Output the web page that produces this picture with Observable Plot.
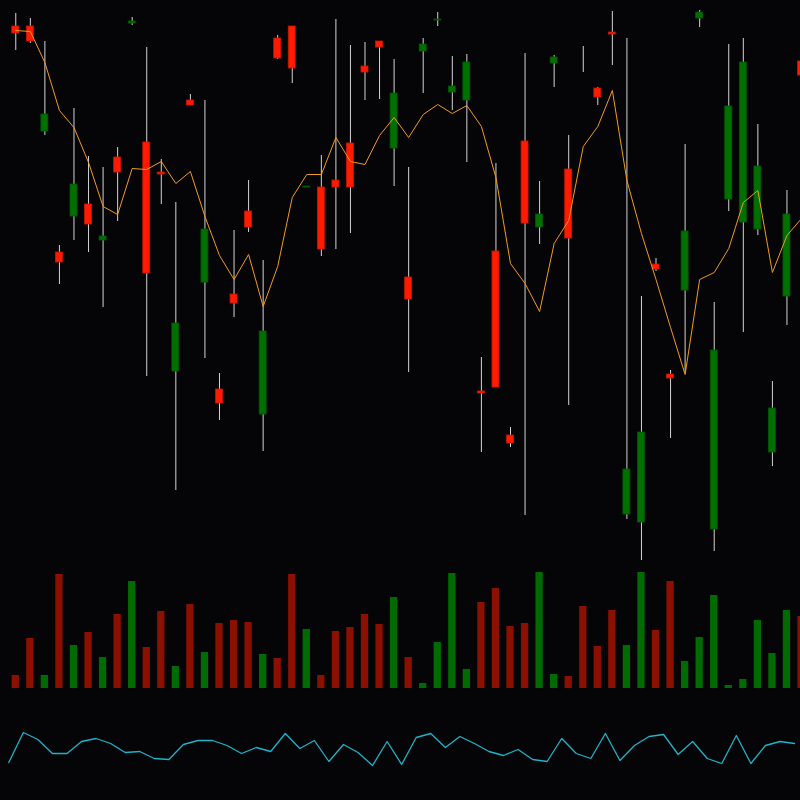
<!DOCTYPE html>
<html><head><meta charset="utf-8">
<script src="https://cdn.jsdelivr.net/npm/d3@7"></script>
<script src="https://cdn.jsdelivr.net/npm/@observablehq/plot@0.6"></script>
<style>
html,body{margin:0;padding:0;background:#050508;}
#chart{width:800px;height:800px;overflow:hidden;background:#050508;}
#chart svg{display:block;}
</style>
</head><body><div id="chart"></div>
<script>
// OHLC prices per session
const open  = [57.4,57.4,46.9,34.8,38.4,39.6,36.0,44.3,57.7,45.8,42.8,22.9,50.0,31.8,21.1,30.6,38.9,18.6,56.2,57.4,41.3,41.3,42.0,45.7,53.4,55.9,45.2,32.3,54.9,58.0,50.8,50.0,20.9,34.9,16.5,45.9,37.3,53.7,43.1,54.1,51.2,56.8,8.6,7.8,33.6,22.6,31.0,58.2,7.1,40.1,37.8,37.1,14.8,30.4,53.9];
const high  = [58.7,58.2,55.9,35.5,49.2,44.4,43.3,45.3,58.3,55.3,44.1,39.8,50.6,50.0,22.7,37.0,42.0,34.0,56.5,57.4,41.4,44.5,58.1,55.5,55.8,55.9,54.1,43.3,56.2,58.8,54.4,54.6,24.3,43.7,17.3,54.7,41.9,54.5,46.5,55.4,51.3,58.9,56.2,30.4,34.2,23.0,45.6,59.0,29.8,55.6,56.2,47.6,21.9,41.0,53.9];
const low   = [55.0,55.7,46.5,31.6,36.0,34.8,29.3,37.9,57.5,22.4,39.6,11.0,49.5,24.2,18.0,28.3,36.8,14.9,54.1,51.7,41.3,34.4,35.1,36.7,50.0,50.1,41.4,22.8,50.7,57.4,49.0,43.8,14.8,21.3,15.3,8.5,35.6,51.3,19.5,52.8,49.5,53.5,8.1,4.0,32.9,16.2,22.8,57.3,4.9,38.9,26.8,36.5,13.4,27.5,52.5];
const close = [56.7,55.9,48.6,33.8,41.6,37.6,36.4,42.8,57.9,32.7,42.6,27.7,49.5,37.1,19.7,29.7,37.3,26.9,54.2,53.2,41.4,35.1,41.3,41.3,52.8,55.3,50.7,30.1,55.6,58.1,51.4,53.8,20.7,21.3,15.7,37.7,38.6,54.3,36.2,54.1,50.3,56.6,13.1,16.8,33.1,22.2,36.9,58.8,25.0,49.4,53.8,43.4,19.2,38.6,52.5];
// moving average of close
const ma    = [57.0,56.9,53.8,49.0,47.3,43.8,39.4,38.6,43.2,43.1,43.9,41.7,42.9,38.4,34.5,32.1,34.6,29.4,33.4,40.3,42.6,42.6,46.3,43.9,43.6,46.5,48.3,46.3,48.6,49.6,48.7,49.5,47.4,42.3,33.7,31.7,28.9,35.7,38.0,45.4,47.4,51.0,42.0,36.7,32.1,27.3,22.6,32.1,32.8,35.2,39.8,41.0,32.8,36.5,38.2];
// traded volume
const volume = [13,50,13,114,43,56,31,74,107,41,77,22,84,36,65,68,66,34,30,114,59,13,57,61,74,64,91,31,5,46,115,19,86,100,62,65,116,14,12,82,42,78,43,116,58,107,27,51,93,3,9,68,35,78,72];
// oscillator
const osc = [38,68,61,47,47,59,62,57,48,49,42,41,56,60,60,55,47,53,49,67,52,60,39,56,48,35,59,36,63,67,53,64,57,49,45,51,41,39,62,47,42,67,40,55,64,66,46,59,42,37,65,37,55,59,57];

const rows = open.map((o, i) => ({i, open: o, high: high[i], low: low[i], close: close[i], ma: ma[i], vol: volume[i], osc: osc[i]}));
const up = d => d.close > d.open;

const bg = "#050508";
const chart = document.getElementById("chart");

const price = Plot.plot({
  width: 800, height: 560, margin: 0,
  style: {background: bg},
  x: {domain: [-1.05, 53.93], axis: null},
  y: {domain: [4, 60], axis: null},
  color: {type: "identity"},
  marks: [
    Plot.ruleX(rows, {x: "i", y1: "low", y2: "high", stroke: "#d4d4d4", strokeWidth: 1}),
    Plot.rect(rows, {x1: d => d.i - 0.24, x2: d => d.i + 0.24, y1: "open", y2: "close",
      fill: d => up(d) ? "#007000" : "#ff1a00",
      stroke: d => up(d) ? "#005800" : "#c81400", strokeWidth: 0.8}),
    Plot.line(rows, {x: "i", y: "ma", stroke: "#f39a1e", strokeWidth: 1})
  ]
});

const vol = Plot.plot({
  width: 800, height: 130, marginTop: 0, marginBottom: 2, marginLeft: 0, marginRight: 0,
  style: {background: bg},
  x: {domain: [-1.05, 53.93], axis: null},
  y: {domain: [0, 128], axis: null},
  color: {type: "identity"},
  marks: [
    Plot.rectY(rows, {x1: d => d.i - 0.25, x2: d => d.i + 0.25, y: "vol",
      fill: d => up(d) ? "#006b00" : "#8c1000"})
  ]
});

const oscPlot = Plot.plot({
  width: 800, height: 110, margin: 0,
  style: {background: bg},
  x: {domain: [-0.57, 54.41], axis: null},
  y: {domain: [0, 110], axis: null},
  marks: [
    Plot.line(rows, {x: "i", y: "osc", stroke: "#1fb3c8", strokeWidth: 1.3})
  ]
});

chart.append(price, vol, oscPlot);
</script>
</body></html>
